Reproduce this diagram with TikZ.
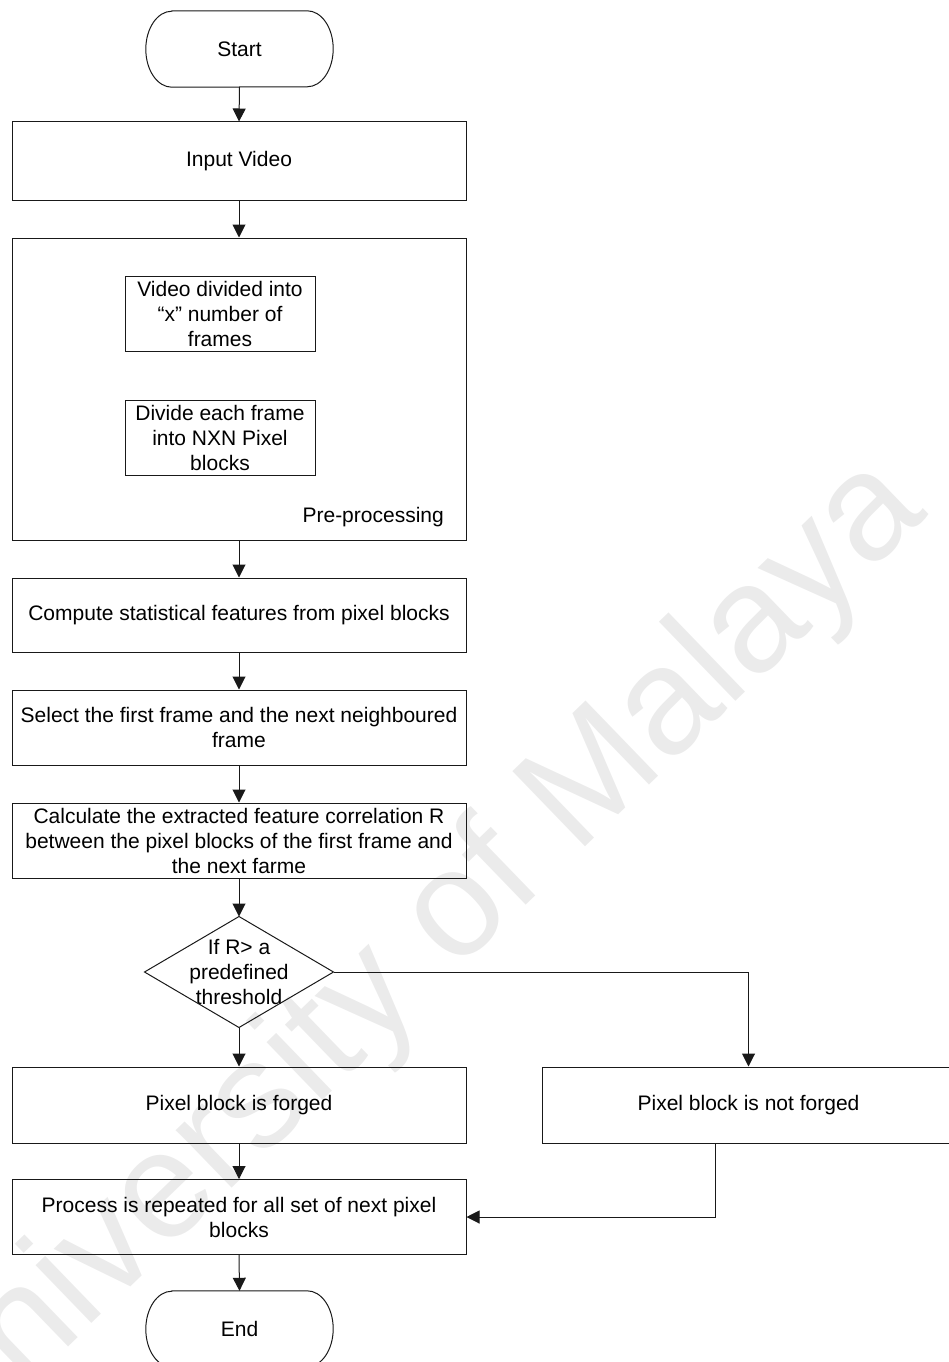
\documentclass[tikz,border=0pt]{standalone}
\usepackage{fontspec}
\setmainfont{Liberation Sans}
\usetikzlibrary{arrows.meta}

% outline of a start/end terminal around a plain node
\newcommand\termshape[1]{%
  \draw[line] ([xshift=26pt]#1.north west) -- ([xshift=-26pt]#1.north east)
    arc[start angle=90, end angle=-90, x radius=26pt, y radius=38pt]
    -- ([xshift=26pt]#1.south west)
    arc[start angle=270, end angle=90, x radius=26pt, y radius=38pt] -- cycle;}

\begin{document}
\begin{tikzpicture}[x=1pt, y=-1pt,
  line/.style={draw=black!90, line width=1pt},
  flow/.style={line, -{Triangle[width=13pt,length=13pt]}},
  txt/.style={inner sep=0pt, align=center, font=\fontsize{21}{25}\selectfont},
  box/.style={txt, line, rectangle},
  wide/.style={box, minimum width=454pt},
  inner/.style={box, minimum width=190pt, minimum height=75pt},
  term/.style={txt, minimum width=187pt, minimum height=76pt},
  watermark/.style={inner sep=0pt, text=black!8, font=\fontsize{152}{152}\selectfont},
]
\useasboundingbox (0,0) rectangle (949,1362);
\clip (0,0) rectangle (949,1362);

% background watermark
\node[watermark, rotate=44] (wm) at (410,962) {University of Malaya};

% main column
\node[term] (start) at (239.5,49) {Start};
\termshape{start}
\node[wide, minimum height=78pt] (input) at (239,161) {Input Video};
\node[wide, minimum height=302pt] (pre) at (239,389) {};
\node[inner] (split) at (220,313.5) {Video divided into\\“x” number of\\frames};
\node[inner] (blocks) at (220,438) {Divide each frame\\into NXN Pixel\\blocks};
\node[txt, anchor=east] (prelbl) at (444,517) {Pre-processing};
\node[wide, minimum height=74pt] (comp) at (239,615) {Compute statistical features from pixel blocks};
\node[wide, minimum height=75pt] (sel) at (239,727.5) {Select the first frame and the next neighboured\\frame};
\node[wide, minimum height=75pt] (calc) at (239,840.5) {Calculate the extracted feature correlation R\\between the pixel blocks of the first frame and\\the next farme};

% decision
\node[txt] (dec) at (239,972) {If R> a\\predefined\\threshold};
\coordinate (dtop) at ([yshift=55.5pt]dec.center);
\coordinate (dbot) at ([yshift=-55.5pt]dec.center);
\coordinate (dleft) at ([xshift=-94.5pt]dec.center);
\coordinate (dright) at ([xshift=94.5pt]dec.center);
\draw[line] (dtop) -- (dright) -- (dbot) -- (dleft) -- cycle;

% outcomes
\node[wide, minimum height=76pt] (forged) at (239,1105) {Pixel block is forged};
\node[box, minimum width=413pt, minimum height=76pt] (notf) at (748.5,1105) {Pixel block is not forged};
\node[wide, minimum height=75pt] (proc) at (239,1217) {Process is repeated for all set of next pixel\\blocks};
\node[term] (finish) at (239.5,1329) {End};
\termshape{finish}

% connectors
\draw[flow] (start.south) -- (input.north);
\draw[flow] (input.south) -- (pre.north);
\draw[flow] (pre.south) -- (comp.north);
\draw[flow] (comp.south) -- (sel.north);
\draw[flow] (sel.south) -- (calc.north);
\draw[flow] (calc.south) -- (dtop);
\draw[flow] (dbot) -- (forged.north);
\draw[flow] (dright) -| (notf.north);
\draw[flow] (forged.south) -- (proc.north);
\draw[flow] ([xshift=-33.5pt]notf.south) |- (proc.east);
\draw[flow] (proc.south) -- (finish.north);
\end{tikzpicture}
\end{document}
